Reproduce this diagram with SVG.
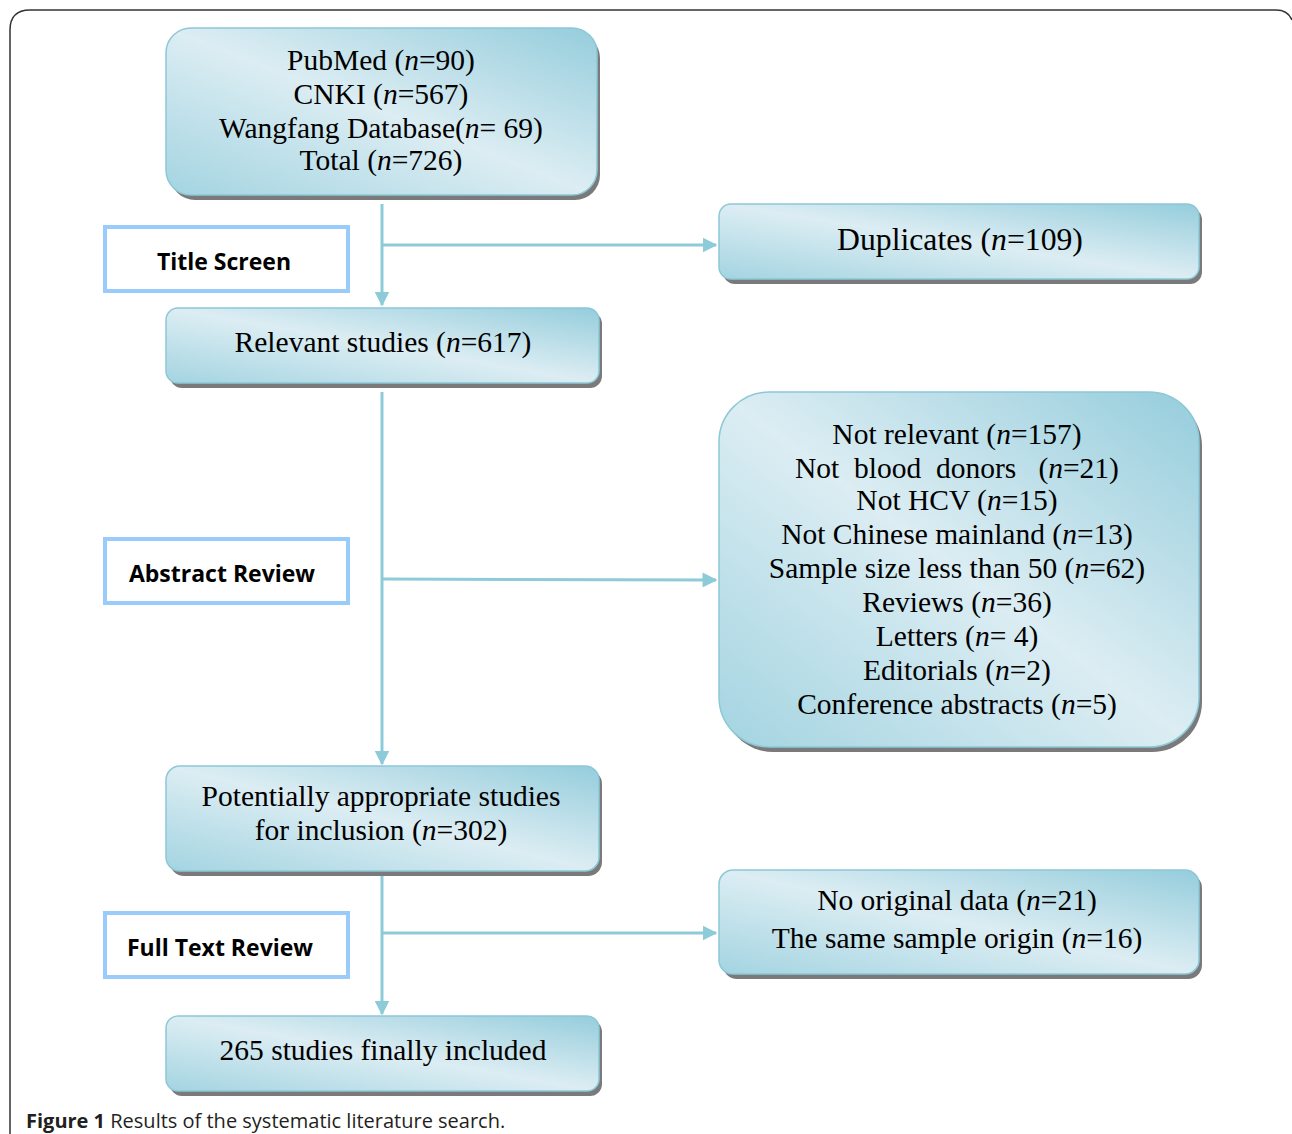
<svg xmlns="http://www.w3.org/2000/svg" width="1292" height="1134" viewBox="0 0 1292 1134">
<style>
.box{fill:url(#g);stroke:#8cc8d7;stroke-width:1.5}
.sh{fill:#7a7a7a}
.t{font-family:"Liberation Serif","Times New Roman",serif;font-size:29.5px;fill:#000;text-anchor:middle}
.lab{fill:#fff;stroke:#99cbfb;stroke-width:4}
.lt{font-family:"Open Sans","Noto Sans",sans-serif;font-weight:bold;font-size:23px;fill:#000}
.c{stroke:#8ecbd9;stroke-width:3;fill:none}
.cap{font-family:"Open Sans","Noto Sans",sans-serif;font-size:20px;fill:#231f20}
</style>
<defs>
<linearGradient id="g" x1="1" y1="0" x2="0" y2="1">
<stop offset="0" stop-color="#95cddc"/>
<stop offset="0.5" stop-color="#dcedf3"/>
<stop offset="1" stop-color="#a3d4e1"/>
</linearGradient>
<marker id="a" viewBox="0 0 10 10" refX="9" refY="5" markerWidth="5" markerHeight="5" orient="auto" markerUnits="strokeWidth">
<path d="M0,0 L10,5 L0,10 z" fill="#8ecbd9"/>
</marker>
</defs>
<rect width="1292" height="1134" fill="#fff"/>
<path d="M10,1134 V30 Q10,10 30,10 H1276 Q1288,10 1292,20" fill="none" stroke="#333" stroke-width="1.5"/>

<g id="connectors">
<line class="c" x1="382" y1="204" x2="382" y2="305" marker-end="url(#a)"/>
<line class="c" x1="382" y1="245" x2="716" y2="245" marker-end="url(#a)"/>
<line class="c" x1="382" y1="392" x2="382" y2="764" marker-end="url(#a)"/>
<line class="c" x1="382" y1="579" x2="716" y2="580" marker-end="url(#a)"/>
<line class="c" x1="382" y1="876" x2="382" y2="1014" marker-end="url(#a)"/>
<line class="c" x1="382" y1="933" x2="716" y2="933" marker-end="url(#a)"/>
</g>

<g id="n1">
<rect class="sh" x="170" y="33" width="430" height="167" rx="25"/>
<rect class="box" x="166" y="28" width="431" height="167" rx="25"/>
<text class="t" x="381" y="70">PubMed (<tspan font-style="italic">n</tspan>=90)</text>
<text class="t" x="381" y="104">CNKI (<tspan font-style="italic">n</tspan>=567)</text>
<text class="t" x="381" y="138">Wangfang Database(<tspan font-style="italic">n</tspan>= 69)</text>
<text class="t" x="381" y="170">Total (<tspan font-style="italic">n</tspan>=726)</text>
</g>

<g id="n2">
<rect class="sh" x="170" y="312" width="432" height="76" rx="12"/>
<rect class="box" x="166" y="308" width="433" height="75" rx="12"/>
<text class="t" x="383" y="352">Relevant studies (<tspan font-style="italic">n</tspan>=617)</text>
</g>

<g id="n3">
<rect class="sh" x="170" y="770" width="432" height="106" rx="14"/>
<rect class="box" x="166" y="766" width="433" height="105" rx="14"/>
<text class="t" x="381" y="806">Potentially appropriate studies</text>
<text class="t" x="381" y="840">for inclusion (<tspan font-style="italic">n</tspan>=302)</text>
</g>

<g id="n4">
<rect class="sh" x="170" y="1020" width="432" height="76" rx="12"/>
<rect class="box" x="166" y="1016" width="433" height="75" rx="12"/>
<text class="t" x="383" y="1060">265 studies finally included</text>
</g>

<g id="n5">
<rect class="sh" x="723" y="208" width="479" height="76" rx="12"/>
<rect class="box" x="719" y="204" width="480" height="75" rx="12"/>
<text class="t" x="960" y="250" style="font-size:31.7px">Duplicates (<tspan font-style="italic">n</tspan>=109)</text>
</g>

<g id="n6">
<rect class="sh" x="723" y="396" width="479" height="356" rx="50"/>
<rect class="box" x="719" y="392" width="480" height="355" rx="50"/>
<text class="t" x="957" y="444">Not relevant (<tspan font-style="italic">n</tspan>=157)</text>
<text class="t" x="957" y="478" xml:space="preserve">Not  blood  donors   (<tspan font-style="italic">n</tspan>=21)</text>
<text class="t" x="957" y="510">Not HCV (<tspan font-style="italic">n</tspan>=15)</text>
<text class="t" x="957" y="544">Not Chinese mainland (<tspan font-style="italic">n</tspan>=13)</text>
<text class="t" x="957" y="578">Sample size less than 50 (<tspan font-style="italic">n</tspan>=62)</text>
<text class="t" x="957" y="612">Reviews (<tspan font-style="italic">n</tspan>=36)</text>
<text class="t" x="957" y="646">Letters (<tspan font-style="italic">n</tspan>= 4)</text>
<text class="t" x="957" y="680">Editorials (<tspan font-style="italic">n</tspan>=2)</text>
<text class="t" x="957" y="714">Conference abstracts (<tspan font-style="italic">n</tspan>=5)</text>
</g>

<g id="n7">
<rect class="sh" x="723" y="874" width="479" height="105" rx="14"/>
<rect class="box" x="719" y="870" width="480" height="104" rx="14"/>
<text class="t" x="957" y="910">No original data (<tspan font-style="italic">n</tspan>=21)</text>
<text class="t" x="957" y="948">The same sample origin (<tspan font-style="italic">n</tspan>=16)</text>
</g>

<g id="l1">
<rect class="lab" x="105" y="227" width="243" height="64"/>
<text class="lt" x="224" y="270" text-anchor="middle">Title Screen</text>
</g>
<g id="l2">
<rect class="lab" x="105" y="539" width="243" height="64"/>
<text class="lt" x="222" y="582" text-anchor="middle">Abstract Review</text>
</g>
<g id="l3">
<rect class="lab" x="105" y="913" width="243" height="64"/>
<text class="lt" x="220" y="956" text-anchor="middle">Full Text Review</text>
</g>

<text class="cap" x="26" y="1128"><tspan font-weight="bold">Figure 1</tspan> Results of the systematic literature search.</text>
</svg>
